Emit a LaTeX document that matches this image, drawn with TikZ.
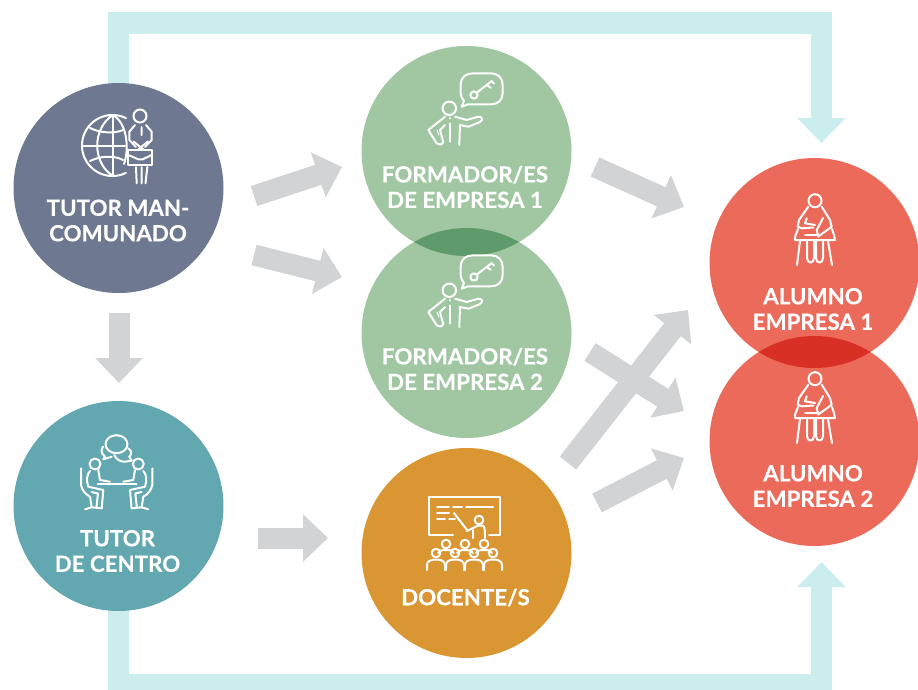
\documentclass[tikz,border=0pt]{standalone}
\usepackage{fontspec}
\setmainfont{Lato}[BoldFeatures={FakeBold=0.35}]
\usetikzlibrary{arrows.meta,backgrounds}
\definecolor{slatec}{HTML}{6E7890}
\definecolor{tealc}{HTML}{63A7B0}
\definecolor{greenc}{HTML}{A0C6A2}
\definecolor{greend}{HTML}{5F9A6A}
\definecolor{orangec}{HTML}{D99632}
\definecolor{redc}{HTML}{EC6A5A}
\definecolor{redd}{HTML}{D93025}
\definecolor{cyanc}{HTML}{CBEDEE}
\definecolor{grayc}{HTML}{D1D3D4}
\tikzset{
  disc/.style={circle,minimum size=210pt,inner sep=0pt,fill=#1},
  lbl/.style={text=white,font=\fontsize{22.3}{25.5}\selectfont\bfseries,align=center,inner sep=0pt},
  band/.style={draw=cyanc,line width=21.5pt,-{Triangle[length=25pt,width=47pt]}},
  bigarrow/.style={draw=grayc,line width=#1,-{Triangle[length=25pt,width=46pt]}},
  bigarrow/.default=21pt,
  ico/.style={draw=white,line width=2pt,line cap=round,line join=round,fill=none},
  keyicon/.pic={
    \draw[ico] (460.7,85) .. controls (460.7,77) and (466,73.3) .. (473,73.3) -- (491,73.3) .. controls (498,73.3) and (502.7,78) .. (502.7,85) -- (502.7,93) .. controls (502.7,100) and (498,104.3) .. (491,104.3) -- (468,104.3) -- (461.7,106.7) -- (464,101) .. controls (462,99) and (460.7,96) .. (460.7,93) -- cycle;
    \draw[ico] (474,95) circle (3.6pt);
    \draw[ico] (477,92.5) -- (491.7,81) -- (494,83.7) (486.7,85) -- (490.7,87.7);
    \draw[ico] (449.3,108.3) circle (6.7pt);
    \draw[ico] (455,116.7) -- (466.7,120) -- (478.3,116.7) .. controls (482,116.5) and (484,120) .. (479.3,122.3) -- (468.3,126.7) -- (460,125) -- (459.3,145);
    \draw[ico] (445,116.7) -- (428.3,130) -- (436.7,143.3) .. controls (440,145) and (443,145) .. (443.3,142.3) -- (440,130) -- (445,125);
    \draw[ico] (450,123.3) -- (450,141.7);
    \draw[ico] (450,118) -- (450,118.5);
    \draw[ico,line width=1pt] (437,130) -- (439,135);
  },
  studenticon/.pic={
    \draw[ico] (815,200.7) circle (6.5pt);
    \draw[ico] (808.3,206.7) -- (799,220) -- (797.7,226.7) -- (801.7,228.3) -- (813.3,227.5);
    \draw[ico] (806.7,218.3) -- (805,223.3) -- (815,225);
    \draw[ico] (821.7,206.7) -- (830,220) -- (831.7,226.7) -- (818.3,236.5);
    \draw[ico] (823,218) -- (816.7,230) -- (818.3,236.5);
    \draw[ico] (798,229) -- (795,236.7) -- (795,240) -- (835,240) -- (834,235) -- (832,229);
    \draw[ico] (805,235) -- (818,235);
    \draw[ico] (800,241) -- (797,265) (828,241) -- (832,265);
    \draw[ico] (807,241) -- (807,258) .. controls (807,264) and (814,264) .. (814,258) -- (814,241);
    \draw[ico] (816,241) -- (816,258) .. controls (816,264) and (823,264) .. (823,258) -- (823,241);
  },
}
\begin{document}
\begin{tikzpicture}[x=1pt,y=-1pt]
\useasboundingbox (0,0) rectangle (918,689);
% discs
\node[disc=slatec] (tutor) at (118.5,188) {};
\node[disc=tealc] (centro) at (118.5,506) {};
\node[disc=greenc] (form1) at (466.5,151) {};
\node[disc=greenc] (form2) at (466.5,333) {};
\node[disc=orangec] (docente) at (466.5,553) {};
\node[disc=redc] (alum1) at (814.5,263) {};
\node[disc=redc] (alum2) at (814.5,441) {};
% overlaps
\begin{scope}
  \clip (466.5,151) circle (105pt);
  \fill[greend] (466.5,333) circle (105pt);
\end{scope}
\begin{scope}
  \clip (814.5,263) circle (105pt);
  \fill[redd] (814.5,441) circle (105pt);
\end{scope}
% connectors
\coordinate (topleft) at (tutor.center |- 0,23);
\coordinate (topright) at (821.5,23);
\coordinate (toptip) at (821.5,143);
\coordinate (botleft) at (centro.center |- 0,684.3);
\coordinate (botright) at (821.5,684.3);
\coordinate (bottip) at (821.5,562);
\coordinate (a1s) at (254,196); \coordinate (a1e) at (342,167);
\coordinate (a2s) at (254,255); \coordinate (a2e) at (342,277);
\coordinate (a3s) at (119,313); \coordinate (a3e) at (119,383);
\coordinate (a4s) at (258,538); \coordinate (a4e) at (328,538);
\coordinate (a5s) at (595,167); \coordinate (a5e) at (684,207);
\coordinate (a6s) at (590,352); \coordinate (a6e) at (684,411);
\coordinate (a7s) at (568,463); \coordinate (a7e) at (688,310);
\coordinate (a8s) at (597,503); \coordinate (a8e) at (684,458);
\begin{pgfonlayer}{background}
  \draw[band] (tutor.center) -- (topleft) -- (topright) -- (toptip);
  \draw[band] (centro.center) -- (botleft) -- (botright) -- (bottip);
  \foreach \s/\e in {a1s/a1e,a2s/a2e,a3s/a3e,a4s/a4e,a5s/a5e,a6s/a6e,a7s/a7e,a8s/a8e}
    \draw[bigarrow] (\s) -- (\e);
\end{pgfonlayer}
% labels
\node[lbl] (ltutor) at (118,220.5) {TUTOR MAN-\\COMUNADO};
\node[lbl] (lcentro) at (117.5,551) {TUTOR\\DE CENTRO};
\node[lbl] (lform1) at (465,187) {FORMADOR/ES\\DE EMPRESA 1};
\node[lbl] (lform2) at (465,369) {FORMADOR/ES\\DE EMPRESA 2};
\node[lbl] (ldoc) at (465.5,597.5) {DOCENTE/S};
\node[lbl] (lal1) at (813,309) {ALUMNO\\EMPRESA 1};
\node[lbl] (lal2) at (813,486) {ALUMNO\\EMPRESA 2};
% globe + person
\draw[ico] (126,118.2) .. controls (122,116) and (117,115) .. (112.5,115) .. controls (95.65,115) and (82,128.65) .. (82,145.5) .. controls (82,162.35) and (95.65,176) .. (112.5,176) .. controls (117,176) and (122,175) .. (126,172.8);
\draw[ico] (113,115) -- (113,176) (82,145.5) -- (125,145.5);
\draw[ico] (113,115) .. controls (92,128) and (92,163) .. (113,176);
\draw[ico] (113,115) .. controls (128,124) and (129,150) .. (124,164);
\draw[ico] (90,128) .. controls (100,133) and (114,134) .. (123,130);
\draw[ico] (90,161) .. controls (100,156) and (114,155) .. (123,160);
\draw[ico] (140,116) circle (6.5pt);
\draw[ico] (135,125) -- (129.3,131.7) -- (129.3,140) -- (136,147) (146,125) -- (151.7,131.7) -- (151.7,140) -- (145,147);
\draw[ico] (133.5,141.5) -- (143.3,149.3) (148,141.5) -- (138.3,149.3) (141.5,127) -- (141.5,135);
\draw[ico] (128.3,150) -- (151.7,150) -- (151.7,165) -- (128.3,165) -- cycle;
\draw[ico] (128.3,155) -- (138.3,159.3) -- (142.7,159.3) -- (151.7,155);
\draw[ico] (136,167) -- (136.7,183.3) (141.5,167) -- (141.5,183.3) (147.3,167) -- (145.5,183.3);
% key icons
\pic at (0,0) {keyicon};
\pic at (0,182) {keyicon};
% student icons
\pic at (0,0) {studenticon};
\pic at (0,178) {studenticon};
% meeting icon
\draw[ico] (116.5,444.2) ellipse (11pt and 9pt);
\draw[ico] (103.3,446.7) .. controls (101,449) and (100.5,453) .. (105,456.7) -- (103.3,459.3) -- (111.7,456.7);
\draw[ico] (114.3,455) .. controls (116,459) and (120,462) .. (125,461.7) -- (131.7,460.7) -- (129.3,456.7) .. controls (132,454) and (132,451) .. (128.3,448.3);
\draw[ico] (97.7,483.5) -- (136.7,483.5);
\foreach \t in {{shift={(0,0)}},{shift={(233.3,0)},xscale=-1}}{
  \begin{scope}[style/.expanded=\t]
    \draw[ico] (95,464) circle (5.5pt);
    \draw[ico] (81,468.3) -- (81,485) .. controls (82,490) and (85,494) .. (90,496.7) -- (91.7,507.3);
    \draw[ico] (85,509.3) -- (91.7,507.3) -- (101.7,508.3);
    \draw[ico] (90,471) .. controls (87,474) and (86,480) .. (88.3,486.7) -- (103.3,490) -- (101.7,508.3);
    \draw[ico] (98.3,470) -- (100,480) -- (110,481.7);
    \draw[ico] (91.7,492) -- (98,493.5) -- (96.5,507);
  \end{scope}
}
% teacher icon
\draw[ico] (453,535) -- (429,535) -- (429,497) -- (500,497) -- (500,535) -- (489,535);
\draw[ico] (437,507) -- (449,507) (453,507) -- (462,507) (466,507) -- (493,507);
\draw[ico] (437,513) -- (449,513) (437,519) -- (445,519) (449,519) -- (455,519);
\draw[ico] (454,513) -- (467,530);
\draw[ico] (479,520) circle (4.3pt);
\draw[ico] (467,531) -- (478,525.5) -- (483,525.5) .. controls (485,527) and (485,532) .. (485,538);
\draw[ico] (473,538) -- (473,530);
\foreach \x in {446,465,484}{
  \draw[ico] (\x,544) circle (4.3pt);
  \draw[ico] (\x-8,553) .. controls (\x-7,551) and (\x-5,550) .. (\x,550) .. controls (\x+5,550) and (\x+7,551) .. (\x+8,553);
}
\foreach \x in {436,455,474,493}{
  \draw[ico] (\x,553) circle (4.3pt);
  \draw[ico] (\x-9,570) -- (\x-9,565) .. controls (\x-9,561) and (\x-5,559.5) .. (\x,559.5) .. controls (\x+5,559.5) and (\x+9,561) .. (\x+9,565) -- (\x+9,570);
}
\end{tikzpicture}
\end{document}
